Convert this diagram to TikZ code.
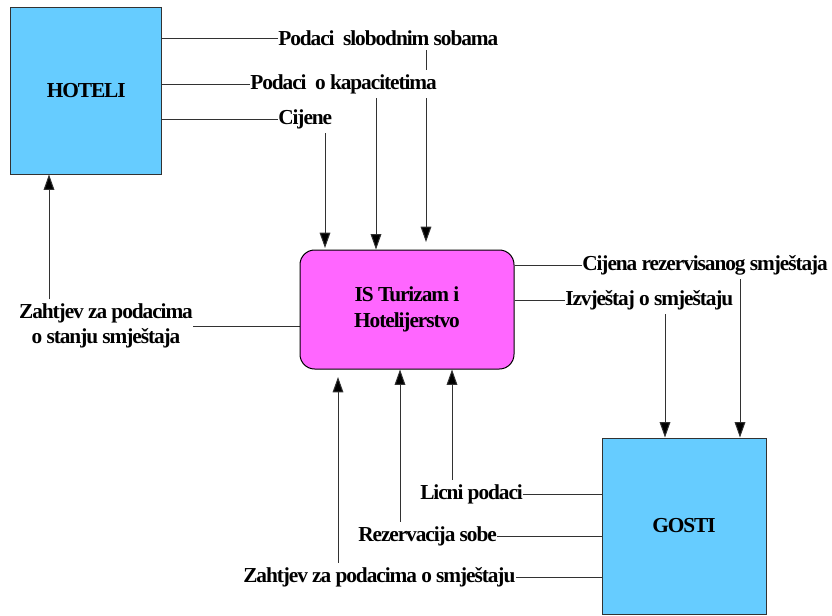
\documentclass[tikz,border=0pt]{standalone}
\usepackage{fontspec}
\setmainfont{Liberation Serif}[LetterSpace=-5]
\usetikzlibrary{arrows.meta,backgrounds}
\definecolor{boxblue}{RGB}{102,204,255}
\definecolor{boxpink}{RGB}{255,102,255}
\definecolor{linegray}{RGB}{50,50,50}
\begin{document}
\begin{tikzpicture}[x=0.75pt,y=-0.75pt,
  txt/.style={font=\bfseries\fontsize{16}{19}\selectfont},
  lbl/.style={txt, fill=white, inner xsep=0pt, inner ysep=3pt, anchor=west},
  entity/.style={txt, draw=linegray, line width=0.75pt, fill=boxblue, inner sep=0pt},
  proc/.style={txt, draw=black, line width=0.75pt, fill=boxpink, rounded corners=11pt, inner sep=0pt, align=center},
  conn/.style={draw=linegray, line width=0.75pt},
  arr/.style={conn, -{Triangle[length=11.5pt,width=8pt,fill=black]}}]
\useasboundingbox (0,0) rectangle (832,615);

% boxes
\node[entity, minimum width=113.6pt, minimum height=125.25pt] (hot) at (86.25,90.5) {HOTELI};
\node[proc, minimum width=160.5pt, minimum height=89.25pt] (is) at (407,309.5) {IS Turizam i\\Hotelijerstvo};
\node[entity, minimum width=123pt, minimum height=132pt] (gos) at (684,526) {GOSTI};

% labels
\node[lbl] (sob) at (278,38) {Podaci\ \ slobodnim sobama};
\node[lbl] (kap) at (250,84) {Podaci\ \ o kapacitetima};
\node[lbl] (cij) at (278,119) {Cijene};
\node[lbl, anchor=center, align=center] (zst) at (106,326) {Zahtjev za podacima\\o stanju smještaja};
\node[lbl] (crs) at (582,265) {Cijena rezervisanog smještaja};
\node[lbl] (izv) at (565,300) {Izvještaj o smještaju};
\node[lbl] (lic) at (420,494) {Licni podaci};
\node[lbl] (rez) at (358,536) {Rezervacija sobe};
\node[lbl] (zps) at (243,577) {Zahtjev za podacima o smještaju};

% arrow x-positions and free ends
\coordinate (x1) at (325,0);
\coordinate (x2) at (376,0);
\coordinate (x3) at (426,0);
\coordinate (x4) at (49,0);
\coordinate (x5) at (665,0);
\coordinate (x6) at (740,0);
\coordinate (x7) at (452,0);
\coordinate (x8) at (400,0);
\coordinate (e1) at (325,248);
\coordinate (e3) at (426,242);
\coordinate (e9) at (338,377);

\begin{scope}[on background layer]
% HOTELI -> labels
\draw[conn] (hot.east |- sob.west) -- (sob.west);
\draw[conn] (hot.east |- kap.west) -- (kap.west);
\draw[conn] (hot.east |- cij.west) -- (cij.west);
% labels -> IS
\draw[arr] (cij.south -| x1) -- (e1);
\draw[arr] (kap.south -| x2) -- (x2 |- is.north);
\draw[arr] (sob.south -| x3) -- (e3);
% IS -> request label -> HOTELI
\draw[conn] (is.west |- zst.east) -- (zst.east);
\draw[arr] (zst.north -| x4) -- (x4 |- hot.south);
% IS -> labels -> GOSTI
\draw[conn] (is.east |- crs.west) -- (crs.west);
\draw[conn] (is.east |- izv.west) -- (izv.west);
\draw[arr] (izv.south -| x5) -- (x5 |- gos.north);
\draw[arr] (crs.south -| x6) -- (x6 |- gos.north);
% GOSTI -> labels -> IS
\draw[conn] (gos.west |- lic.east) -- (lic.east);
\draw[conn] (gos.west |- rez.east) -- (rez.east);
\draw[conn] (gos.west |- zps.east) -- (zps.east);
\draw[arr] (lic.north -| x7) -- (x7 |- is.south);
\draw[arr] (rez.north -| x8) -- (x8 |- is.south);
\draw[arr] (zps.north -| e9) -- (e9);
\end{scope}
\end{tikzpicture}
\end{document}
